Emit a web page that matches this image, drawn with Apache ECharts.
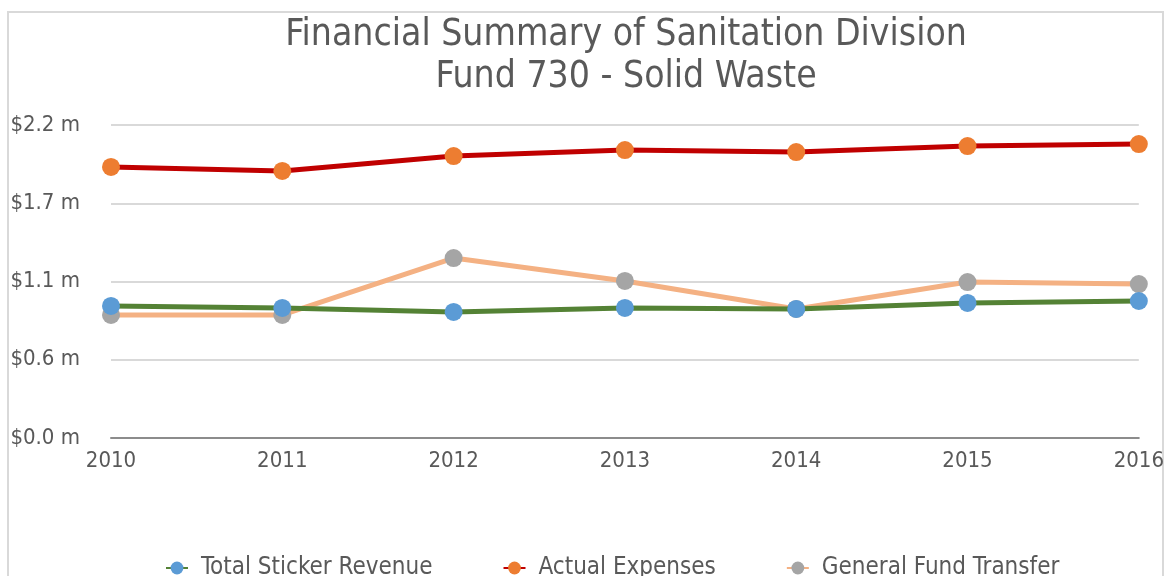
<!DOCTYPE html>
<html>
<head>
<meta charset="utf-8">
<script src="https://cdn.jsdelivr.net/npm/echarts@6/dist/echarts.min.js"></script>
<style>
html,body{margin:0;padding:0;background:#fff;}
#chart{width:1167px;height:576px;}
</style>
</head>
<body>
<div id="chart"></div>
<script>
const categories = ['2010','2011','2012','2013','2014','2015','2016'];
const stickerRevenue = [0.928, 0.914, 0.886, 0.914, 0.907, 0.949, 0.963];
const actualExpenses = [1.905, 1.877, 1.982, 2.024, 2.010, 2.052, 2.066];
const generalFundTransfer = [0.865, 0.865, 1.265, 1.104, 0.907, 1.096, 1.082];
const yTickLabels = ['$0.0 m','$0.6 m','$1.1 m','$1.7 m','$2.2 m'];
const seriesNames = ['Total Sticker Revenue','Actual Expenses','General Fund Transfer'];
const titleLines = ['Financial Summary of Sanitation Division','Fund 730 - Solid Waste'];

const FONT = '"DejaVu Sans Condensed",sans-serif';
const TXT = '#595959';

const chart = echarts.init(document.getElementById('chart'), null, {renderer:'canvas'});
chart.setOption({
  animation:false,
  backgroundColor:'#fff',
  textStyle:{fontFamily:FONT},
  graphic:[
    {type:'rect', silent:true, z:-10, shape:{x:8, y:12, width:1155, height:600},
     style:{fill:'none', stroke:'#d9d9d9', lineWidth:2}},
    {type:'text', x:626, y:14, silent:true,
     style:{text:titleLines.join('\n'), font:'37px '+FONT, fill:TXT, textAlign:'center', textVerticalAlign:'top', lineHeight:42}}
  ],
  grid:{left:111, right:28, top:125, bottom:138, containLabel:false},
  legend:{
    data:seriesNames,
    left:160, top:551,
    itemWidth:22, itemHeight:16, itemGap:70,
    textStyle:{color:TXT, fontSize:24, fontFamily:FONT, padding:[0,0,0,8]}
  },
  xAxis:{
    type:'category', data:categories, boundaryGap:false,
    axisLine:{lineStyle:{color:'#8c8c8c', width:2}},
    axisTick:{show:false},
    axisLabel:{color:TXT, fontSize:22, fontFamily:FONT, margin:12}
  },
  yAxis:{
    type:'value', min:0, max:2.2, interval:0.55,
    axisLine:{show:false}, axisTick:{show:false},
    splitLine:{lineStyle:{color:'#d9d9d9', width:2}},
    axisLabel:{color:TXT, fontSize:22, fontFamily:FONT, margin:31,
      formatter:function(v){return yTickLabels[Math.round(v/0.55)];}}
  },
  series:[
    {name:seriesNames[0], type:'line', data:stickerRevenue, z:5,
     symbol:'circle', symbolSize:18,
     itemStyle:{color:'#5B9BD5'}, lineStyle:{color:'#548235', width:5}},
    {name:seriesNames[1], type:'line', data:actualExpenses, z:4,
     symbol:'circle', symbolSize:18,
     itemStyle:{color:'#ED7D31'}, lineStyle:{color:'#C00000', width:5}},
    {name:seriesNames[2], type:'line', data:generalFundTransfer, z:3,
     symbol:'circle', symbolSize:18,
     itemStyle:{color:'#A5A5A5'}, lineStyle:{color:'#F4B183', width:5}}
  ]
});
</script>
</body>
</html>
